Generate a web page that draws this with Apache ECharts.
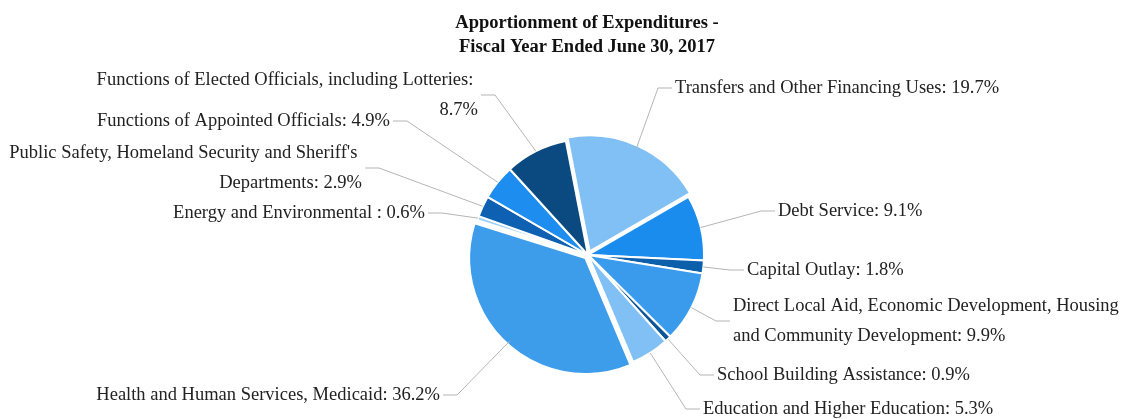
<!DOCTYPE html>
<html>
<head>
<meta charset="utf-8">
<script src="https://cdn.jsdelivr.net/npm/echarts@6/dist/echarts.min.js"></script>
<style>
  html, body { margin: 0; padding: 0; background: #fff; }
  #containerPie { width: 1126px; height: 419px; }
</style>
</head>
<body>
<div id="containerPie"></div>
<script>
// categories, clockwise from the top
var categories = [
    'Transfers and Other Financing Uses',
    'Debt Service',
    'Capital Outlay',
    'Direct Local Aid, Economic Development, Housing and Community Development',
    'School Building Assistance',
    'Education and Higher Education',
    'Health and Human Services, Medicaid',
    'Energy and Environmental ',
    'Public Safety, Homeland Security and Sheriff\'s Departments',
    'Functions of Appointed Officials',
    'Functions of Elected Officials, including Lotteries'
];
// percent of expenditures
var shares = [19.7, 9.1, 1.8, 9.9, 0.9, 5.3, 36.2, 0.6, 2.9, 4.9, 8.7];
var exploded = ['Transfers and Other Financing Uses', 'Health and Human Services, Medicaid'];

// styling / layout only
var sliceColors = ['#80c0f5', '#1a8cee', '#0b5fab', '#3a9bec', '#0c5597', '#80c0f5',
                   '#3d9deb', '#9fd0f7', '#0e61b2', '#1d8ef0', '#0b4a80'];
var wrapWidth = [0, 0, 0, 395, 0, 0, 0, 0, 360, 0, 385];
// where each label sits: inner edge x, middle y
var labelAt = [
    [675, 88], [778, 211], [747, 270], [733, 321], [717, 375], [703, 409],
    [440, 395], [425, 213], [362, 168], [390, 121], [478, 95]
];
var pieCenter = [588, 255];
var pieRadius = 116;

var domPie = document.getElementById('containerPie');
var myChart = echarts.init(domPie);

// the visible slices
var sliceData = categories.map(function (name, i) {
    return {
        name: name,
        value: shares[i],
        selected: exploded.indexOf(name) >= 0,
        itemStyle: { color: sliceColors[i] }
    };
});

// same values again, only used to carry the labels and their lines
var labelData = categories.map(function (name, i) {
    var item = { name: name, value: shares[i] };
    if (wrapWidth[i]) {
        item.label = { width: wrapWidth[i], overflow: 'break' };
    }
    return item;
});

var optionPie = {
    title: {
        text: 'Apportionment of Expenditures -\nFiscal Year Ended June 30, 2017',
        left: 582,
        top: 6,
        textAlign: 'center',
        textStyle: {
            fontFamily: 'Liberation Serif',
            fontSize: 18.5,
            fontWeight: 'bold',
            color: '#111',
            lineHeight: 24
        }
    },
    series: [
        {
            type: 'pie',
            center: pieCenter,
            radius: pieRadius,
            startAngle: 101,
            clockwise: true,
            selectedMode: 'multiple',
            selectedOffset: 4,
            animation: false,
            silent: true,
            itemStyle: {
                borderColor: '#fff',
                borderWidth: 2
            },
            label: { show: false },
            labelLine: { show: false },
            data: sliceData
        },
        {
            type: 'pie',
            center: pieCenter,
            radius: pieRadius,
            startAngle: 101,
            clockwise: true,
            animation: false,
            silent: true,
            z: 3,
            itemStyle: {
                color: 'rgba(0,0,0,0)',
                borderWidth: 0
            },
            label: {
                formatter: function (p) { return p.name + ': ' + p.value.toFixed(1) + '%'; },
                fontFamily: 'Liberation Serif',
                fontSize: 18.5,
                color: '#222',
                lineHeight: 30
            },
            labelLine: {
                length: 18,
                length2: 25,
                lineStyle: { color: '#b5b5b5', width: 1 }
            },
            labelLayout: function (params) {
                var spot = labelAt[params.dataIndex];
                var isLeft = spot[0] < pieCenter[0];
                var p0 = params.labelLinePoints ? params.labelLinePoints[0] : null;
                var end = [isLeft ? spot[0] + 3 : spot[0] - 3, spot[1]];
                var elbow = [isLeft ? end[0] + 14 : end[0] - 14, spot[1]];
                var out = {
                    x: spot[0],
                    y: spot[1],
                    align: isLeft ? 'right' : 'left',
                    verticalAlign: 'middle'
                };
                if (p0) {
                    out.labelLinePoints = [p0, elbow, end];
                }
                return out;
            },
            data: labelData
        }
    ]
};

if (optionPie && typeof optionPie === 'object') {
    myChart.setOption(optionPie, true);
}
</script>
</body>
</html>
